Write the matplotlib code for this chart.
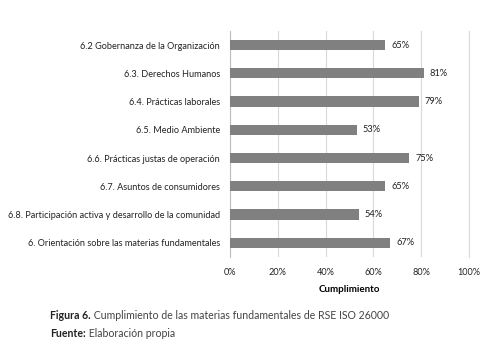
import matplotlib.pyplot as plt
from matplotlib.ticker import PercentFormatter

plt.rcParams['font.family'] = ['Lato', 'DejaVu Sans']

categorias = [
    '6.2 Gobernanza de la Organización',
    '6.3. Derechos Humanos',
    '6.4. Prácticas laborales',
    '6.5. Medio Ambiente',
    '6.6. Prácticas justas de operación',
    '6.7. Asuntos de consumidores',
    '6.8. Participación activa y desarrollo de la comunidad',
    '6. Orientación sobre las materias fundamentales',
]
cumplimiento = [65, 81, 79, 53, 75, 65, 54, 67]

fig = plt.figure(figsize=(4.81, 3.51), dpi=100)
ax = fig.add_axes([0.478, 0.268, 0.497, 0.644])

pos = list(range(len(categorias)))
ax.barh(pos, cumplimiento, height=0.36, color='#808080', zorder=3)
for p, v in zip(pos, cumplimiento):
    ax.text(v + 2.5, p, f'{v}%', va='center', ha='left', fontsize=6.7, color='#222222')

ax.set_yticks(pos)
ax.set_yticklabels(categorias, fontsize=6.6, color='#222222')
ax.set_ylim(len(categorias) - 0.5, -0.5)
ax.set_xlim(0, 100)
ax.set_xticks([0, 20, 40, 60, 80, 100])
ax.xaxis.set_major_formatter(PercentFormatter(decimals=0))
ax.tick_params(axis='x', labelsize=6.6, length=0, pad=8, colors='#222222')
ax.tick_params(axis='y', length=0, pad=7)
ax.grid(axis='x', color='#d9d9d9', linewidth=0.8, zorder=0)
for s in ['top', 'bottom']:
    ax.spines[s].set_visible(False)
ax.spines['left'].set_color('#bfbfbf')
ax.spines['right'].set_color('#d9d9d9')
ax.set_xlabel('Cumplimiento', fontsize=7, fontweight='bold', labelpad=6)

t1 = fig.text(0.104, 0.092, 'Figura 6.', fontsize=7.6, fontweight='bold', color='#222222')
ax.annotate(' Cumplimiento de las materias fundamentales de RSE ISO 26000',
            xy=(1, 0), xycoords=t1, va='bottom', fontsize=7.6, color='#444444')
t2 = fig.text(0.104, 0.040, 'Fuente:', fontsize=7.6, fontweight='bold', color='#222222')
ax.annotate(' Elaboración propia', xy=(1, 0), xycoords=t2, va='bottom',
            fontsize=7.6, color='#444444')

fig.savefig('out.png', dpi=100)
